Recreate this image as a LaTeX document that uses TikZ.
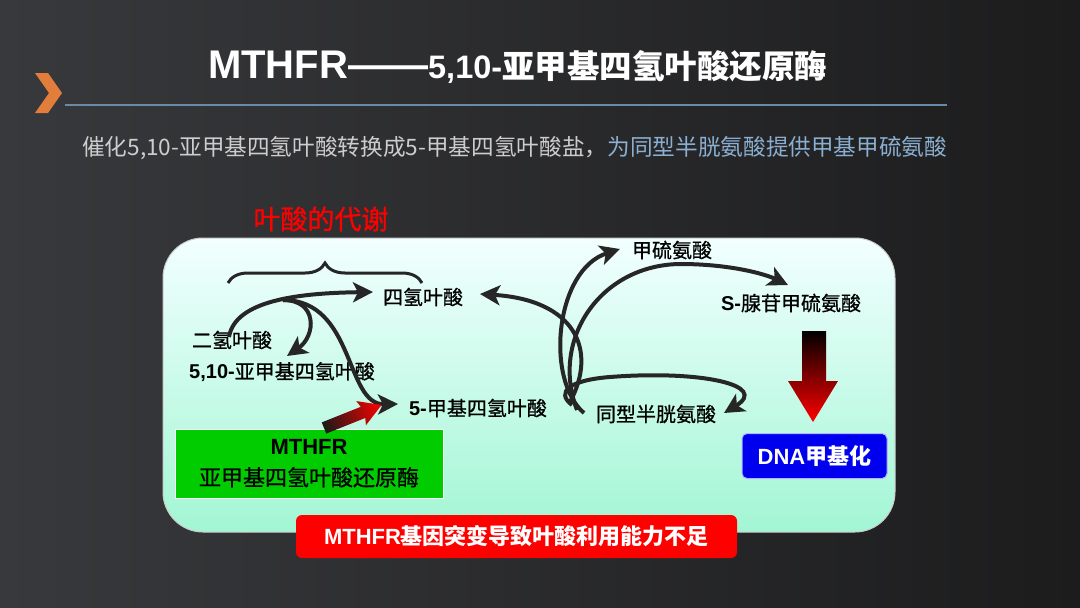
\documentclass[tikz,border=0pt]{standalone}
\usepackage{fontspec}
\setmainfont{Liberation Sans}
\newfontfamily\cjk{Noto Sans CJK SC}
\newfontfamily\cjkm[FakeBold=0.8]{Noto Sans CJK SC}
\usetikzlibrary{arrows.meta,decorations.pathreplacing}
\definecolor{bgl}{HTML}{38393C}
\definecolor{bgr}{HTML}{1C1C1D}
\definecolor{chev}{HTML}{E27D3C}
\definecolor{rulec}{HTML}{6A8AA6}
\definecolor{subg}{HTML}{CDCDCD}
\definecolor{subb}{HTML}{8AAFD0}
\definecolor{boxt}{HTML}{F2FFFF}
\definecolor{boxm}{HTML}{C4FCF4}
\definecolor{boxb}{HTML}{A2F6D4}
\definecolor{gbox}{HTML}{00CC00}
\definecolor{dnab}{HTML}{0000EE}
\definecolor{ink}{HTML}{262626}
\begin{document}
\begin{tikzpicture}[x=1pt,y=-1pt,
 lab/.style={inner sep=0pt, font=\fontsize{20}{24}\selectfont, text=black},
 arr/.style={draw=ink, line width=4pt, -{Stealth[length=20pt,width=20pt,inset=5pt]}},
 boxlab/.style={inner sep=0pt, text=white, font=\fontsize{22}{26}\selectfont\bfseries},
]
\useasboundingbox (0,0) rectangle (1080,608);
\shade[left color=bgl, right color=bgr] (0,0) rectangle (1080,608);

% header
\fill[chev] (35,73) -- (48,73) -- (62,93) -- (48,113) -- (35,113) -- (49,93) -- cycle;
\node[anchor=base west, inner sep=0pt, text=white] (title) at (208,78)
  {\fontsize{40}{44}\selectfont\bfseries MTHFR——{\fontsize{32.5}{36}\selectfont 5,10-\cjk\bfseries 亚甲基四氢叶酸还原酶}};
\coordinate (rl) at (65,105);
\coordinate (rr) at (947,105);
\draw[rulec, line width=2.5pt] (rl) -- (rr);
\node[anchor=base west, inner sep=0pt] (sub) at (82,155)
  {\cjk\fontsize{22.65}{26}\selectfont\color{subg}催化5,10-亚甲基四氢叶酸转换成5-甲基四氢叶酸盐，\color{subb}为同型半胱氨酸提供甲基甲硫氨酸};

\node[inner sep=0pt, text=red] (heading) at (321,219) {\cjkm\fontsize{27}{30}\selectfont 叶酸的代谢};

% main panel
\shade[top color=boxt, middle color=boxm, bottom color=boxb, draw=gray!40, line width=1pt, rounded corners=40pt]
  (163,238) rectangle (895,532);

% brace
\coordinate (bl) at (228,283);
\coordinate (br) at (422,283);
\draw[ink, line width=3pt, decorate, decoration={brace, amplitude=20pt}] (bl) -- (br);

% labels
\node[lab] (thf) at (423,297) {\cjkm 四氢叶酸};
\node[lab] (dhf) at (232,340) {\cjkm 二氢叶酸};
\node[lab] (mthf) at (282,372) {\bfseries 5,10-\cjkm\mdseries 亚甲基四氢叶酸};
\node[lab] (fmthf) at (478,408) {\bfseries 5-\cjkm\mdseries 甲基四氢叶酸};
\node[lab] (hcy) at (656,414) {\cjkm 同型半胱氨酸};
\node[lab] (met) at (672,250) {\cjkm 甲硫氨酸};
\node[lab] (sam) at (791,303) {\bfseries S-\cjkm\mdseries 腺苷甲硫氨酸};

% left curves
\coordinate (s1) at (229,337);
\coordinate (hub) at (283,300);
\coordinate (e1) at (373,292);
\coordinate (e2) at (287,356);
\coordinate (e3) at (398,404);
\draw[arr] (s1) .. controls (235,300) and (300,293) .. (e1);
\draw[arr] (hub) .. controls (318,300) and (316,336) .. (e2);
\draw[arr] (hub) .. controls (355,300) and (345,405) .. (e3);

% right curves
\coordinate (ta) at (570,402);
\coordinate (tb) at (584,413);
\coordinate (tc) at (577,410);
\coordinate (td) at (572,405);
\coordinate (ea) at (480,294);
\coordinate (eb) at (620,249);
\coordinate (ec) at (788,285);
\coordinate (ed) at (724,413);
\draw[arr] (ta) .. controls (598,350) and (575,300) .. (ea);
\draw[arr] (tb) .. controls (545,380) and (555,270) .. (eb);
\draw[arr] (tc) .. controls (550,340) and (600,265) .. (680,264) .. controls (730,264) and (765,274) .. (ec);
\draw[arr] (td) .. controls (555,392) and (570,380) .. (610,377) .. controls (700,370) and (770,385) .. (ed);

% big vertical gradient arrow
\shade[top color=black, bottom color=red] (802,331) -- (826,331) -- (826,381) -- (838,381) -- (813,422) -- (788,381) -- (802,381) -- cycle;

% enzyme box
\node[draw=white, line width=1pt, fill=gbox, minimum width=268pt, minimum height=69pt, inner sep=0pt,
  align=center, font=\fontsize{22}{31}\selectfont] (enz) at (309,463.5)
  {\bfseries MTHFR\\[0pt]{\cjkm 亚甲基四氢叶酸还原酶}};

% red diagonal arrow
\begin{scope}[transform canvas={shift={(324,428)}, rotate=21.8}]
\shade[left color=black!90, right color=red] (0,-6) -- (42,-6) -- (40,-13) -- (62,0) -- (40,13) -- (42,6) -- (0,6) -- cycle;
\end{scope}

% DNA box
\node[draw=white!70!dnab, line width=1pt, fill=dnab, rounded corners=5pt, minimum width=145pt, minimum height=45pt,
  boxlab] (dna) at (814.5,456) {DNA{\cjk 甲基化}};

% bottom red box
\node[fill=red, rounded corners=6pt, minimum width=441pt, minimum height=43pt, boxlab] (warn) at (516.5,536.5)
  {MTHFR{\cjk 基因突变导致叶酸利用能力不足}};
\end{tikzpicture}
\end{document}
